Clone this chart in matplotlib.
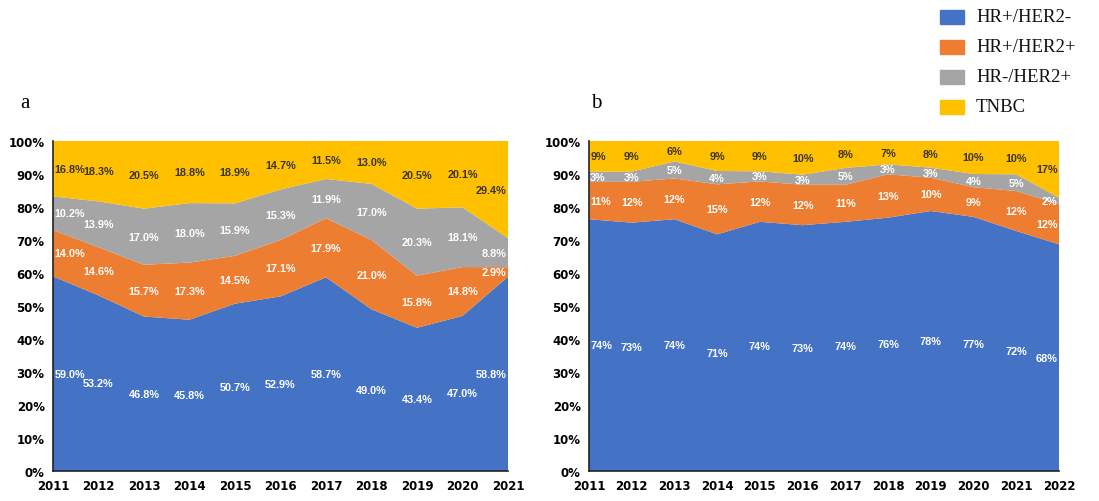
import matplotlib
matplotlib.use("Agg")
import matplotlib.pyplot as plt
import numpy as np
from matplotlib.patches import Rectangle

series_names = ["HR+/HER2-", "HR+/HER2+", "HR-/HER2+", "TNBC"]
colors = ["#4472C4", "#ED7D31", "#A5A5A5", "#FFC000"]
label_colors = ["white", "white", "white", "#3b3426"]

years_a = [2011, 2012, 2013, 2014, 2015, 2016, 2017, 2018, 2019, 2020, 2021]
a_hr_pos_her2_neg = [59.0, 53.2, 46.8, 45.8, 50.7, 52.9, 58.7, 49.0, 43.4, 47.0, 58.8]
a_hr_pos_her2_pos = [14.0, 14.6, 15.7, 17.3, 14.5, 17.1, 17.9, 21.0, 15.8, 14.8, 2.9]
a_hr_neg_her2_pos = [10.2, 13.9, 17.0, 18.0, 15.9, 15.3, 11.9, 17.0, 20.3, 18.1, 8.8]
a_tnbc = [16.8, 18.3, 20.5, 18.8, 18.9, 14.7, 11.5, 13.0, 20.5, 20.1, 29.4]

years_b = [2011, 2012, 2013, 2014, 2015, 2016, 2017, 2018, 2019, 2020, 2021, 2022]
b_hr_pos_her2_neg = [74, 73, 74, 71, 74, 73, 74, 76, 78, 77, 72, 68]
b_hr_pos_her2_pos = [11, 12, 12, 15, 12, 12, 11, 13, 10, 9, 12, 12]
b_hr_neg_her2_pos = [3, 3, 5, 4, 3, 3, 5, 3, 3, 4, 5, 2]
b_tnbc = [9, 9, 6, 9, 9, 10, 8, 7, 8, 10, 10, 17]

yticks = [0, 10, 20, 30, 40, 50, 60, 70, 80, 90, 100]
ytick_labels = [f"{v}%" for v in yticks]

fig = plt.figure(figsize=(10.99, 5.02), dpi=100)
W, H = 1099, 502

def ax_rect(x0, x1, ytop, ybot):
    return [x0 / W, 1 - ybot / H, (x1 - x0) / W, (ybot - ytop) / H]

def draw_panel(ax, years, data, fmt):
    data = np.array(data, dtype=float)
    totals = data.sum(axis=0)
    pct = data / totals * 100
    x = np.array(years)
    ax.stackplot(x, pct, colors=colors, linewidth=0)
    cum = np.cumsum(pct, axis=0)
    for i in range(pct.shape[0]):
        lower = cum[i] - pct[i]
        for j, xv in enumerate(x):
            yc = lower[j] + pct[i][j] / 2
            if j == 0:
                ha = "left"; xx = xv + 0.03
            elif j == len(x) - 1:
                ha = "right"; xx = xv - 0.03
            else:
                ha = "center"; xx = xv
            ax.text(xx, yc, fmt(data[i][j]), ha=ha, va="center",
                    fontsize=7.8, color=label_colors[i], fontweight="bold",
                    family="Liberation Sans")
    ax.set_xlim(x[0], x[-1])
    ax.set_ylim(0, 100)
    ax.set_xticks(x)
    ax.set_xticklabels([str(v) for v in years], fontsize=8.5, fontweight="bold")
    ax.set_yticks(yticks)
    ax.set_yticklabels(ytick_labels, fontsize=8.5, fontweight="bold")
    ax.tick_params(length=0, pad=6)
    for s in ["top", "right"]:
        ax.spines[s].set_visible(False)
    for s in ["left", "bottom"]:
        ax.spines[s].set_color("#222222")
        ax.spines[s].set_linewidth(1.2)

ax_a = fig.add_axes(ax_rect(53, 508, 142, 472))
draw_panel(ax_a, years_a,
           [a_hr_pos_her2_neg, a_hr_pos_her2_pos, a_hr_neg_her2_pos, a_tnbc],
           lambda v: f"{v:.1f}%")

ax_b = fig.add_axes(ax_rect(589, 1059, 142, 472))
draw_panel(ax_b, years_b,
           [b_hr_pos_her2_neg, b_hr_pos_her2_pos, b_hr_neg_her2_pos, b_tnbc],
           lambda v: f"{v:.0f}%")

fig.text(20 / W, 1 - 103 / H, "a", fontsize=15, family="Liberation Serif", va="center")
fig.text(591 / W, 1 - 103 / H, "b", fontsize=15, family="Liberation Serif", va="center")

# legend
leg_y = [18, 48, 78, 108]
for name, c, yy in zip(series_names, colors, leg_y):
    fig.patches.append(Rectangle((940 / W, 1 - (yy + 7) / H), 24 / W, 14 / H,
                                 transform=fig.transFigure, color=c, figure=fig))
    fig.text(976 / W, 1 - yy / H, name, fontsize=13.5, family="Liberation Serif",
             va="center", ha="left", color="#111111")

fig.savefig("out.png", dpi=100)
